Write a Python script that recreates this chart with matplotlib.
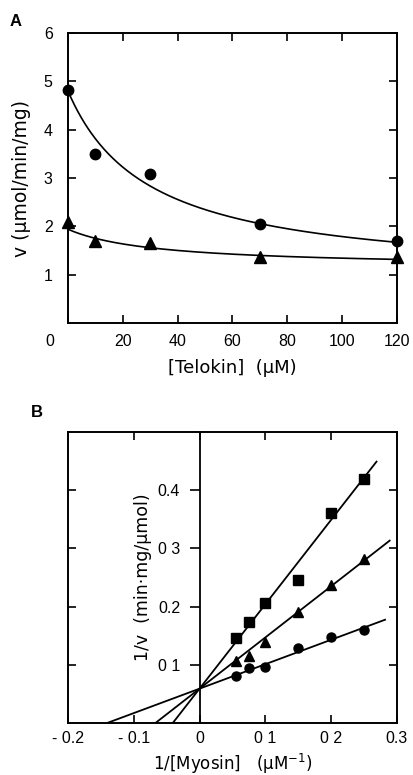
import numpy as np
import matplotlib.pyplot as plt
import matplotlib.transforms as mtransforms

plt.rcParams['font.family'] = ['Liberation Sans', 'DejaVu Sans']
plt.rcParams['mathtext.default'] = 'regular'
plt.rcParams['font.size'] = 11.5

LABEL_FONT = ['DejaVu Sans']

# ---------------- panel A data ----------------
telokin = [0, 10, 30, 70, 120]
v_circle = [4.82, 3.50, 3.09, 2.04, 1.69]
v_triangle = [2.10, 1.70, 1.65, 1.36, 1.36]
# hyperbolic fit: v = vmin + (v0 - vmin) * K / (K + I)
fit_circle = (4.80, 0.90, 29.5)
fit_triangle = (1.94, 1.15, 32.0)

# ---------------- panel B data ----------------
inv_myosin = [0.055, 0.075, 0.10, 0.15, 0.20, 0.25]
inv_v_square = [0.146, 0.174, 0.206, 0.246, 0.360, 0.420]
inv_v_triangle = [0.106, 0.115, 0.140, 0.191, 0.237, 0.282]
inv_v_circle = [0.081, 0.094, 0.097, 0.129, 0.148, 0.160]
intercept = 0.059
# slope, end of drawn line
line_square = (1.45, 0.269)
line_triangle = (0.88, 0.289)
line_circle = (0.42, 0.282)

fig = plt.figure(figsize=(4.13, 7.75), dpi=100)

# ================= A =================
ax1 = fig.add_axes([0.1646, 0.5832, 0.7964, 0.3742])
ax1.set_xlim(0, 120)
ax1.set_ylim(0, 6)


def hyper(x, p):
    v0, vmin, k = p
    return vmin + (v0 - vmin) * k / (k + x)


xx = np.linspace(0, 120, 300)
ax1.plot(xx, hyper(xx, fit_circle), color='black', lw=1.2)
ax1.plot(xx, hyper(xx, fit_triangle), color='black', lw=1.2)
ax1.plot(telokin, v_circle, 'o', color='black', ms=7.5, clip_on=False)
ax1.plot(telokin, v_triangle, '^', color='black', ms=8, clip_on=False)

ax1.set_xticks([0, 20, 40, 60, 80, 100, 120])
ax1.set_yticks([1, 2, 3, 4, 5, 6])
ax1.tick_params(direction='in', length=6, width=1.2, top=True, right=True)
ax1.tick_params(axis='x', pad=8)
ax1.tick_params(axis='y', pad=11)
off = mtransforms.ScaledTranslation(-18 / 100, 0, fig.dpi_scale_trans)
lab0 = ax1.xaxis.get_major_ticks()[0].label1
lab0.set_transform(lab0.get_transform() + off)
ax1.set_xlabel('[Telokin]  (μM)', labelpad=7, family=LABEL_FONT, fontsize=13)
ax1.set_ylabel('v (μmol/min/mg)', labelpad=9.5, family=LABEL_FONT, fontsize=13.5)
for s in ax1.spines.values():
    s.set_linewidth(1.4)
fig.text(0.022, 0.972, 'A', fontsize=12, fontweight='bold', va='center')

# ================= B =================
ax2 = fig.add_axes([0.1646, 0.0671, 0.7964, 0.3755])
ax2.set_xlim(-0.2, 0.3)
ax2.set_ylim(0, 0.5)

for (slope, xend) in [line_square, line_triangle, line_circle]:
    xs = np.array([-intercept / slope, xend])
    ax2.plot(xs, intercept + slope * xs, color='black', lw=1.3)
ax2.plot(inv_myosin, inv_v_square, 's', color='black', ms=6.5)
ax2.plot(inv_myosin, inv_v_triangle, '^', color='black', ms=7)
ax2.plot(inv_myosin, inv_v_circle, 'o', color='black', ms=6.5)

ax2.set_xticks([-0.2, -0.1, 0, 0.1, 0.2, 0.3])
ax2.set_xticklabels(['- 0.2', '- 0.1', '0', '0 1', '0 2', '0.3'])
ax2.set_yticks([0.1, 0.2, 0.3, 0.4])
ax2.tick_params(direction='in', length=6, width=1.2, top=True, right=True,
                labelleft=False)
ax2.tick_params(axis='x', pad=6)
ax2.set_xlabel('1/[Myosin]   (μM$^{-1}$)', labelpad=4, family=LABEL_FONT,
               fontsize=12)
for s in ax2.spines.values():
    s.set_linewidth(1.4)

sec = ax2.secondary_yaxis(0.4)
sec.set_yticks([0.1, 0.2, 0.3, 0.4])
sec.set_yticklabels(['0 1', '0.2', '0 3', '0.4'])
sec.tick_params(direction='out', length=7, width=1.2, pad=7)
sec.spines['left'].set_linewidth(1.3)
sec.set_ylabel('1/v  (min·mg/μmol)', labelpad=4, family=LABEL_FONT,
               fontsize=12.5)
fig.text(0.075, 0.468, 'B', fontsize=12, fontweight='bold', va='center')

fig.savefig('out.png', dpi=100)
